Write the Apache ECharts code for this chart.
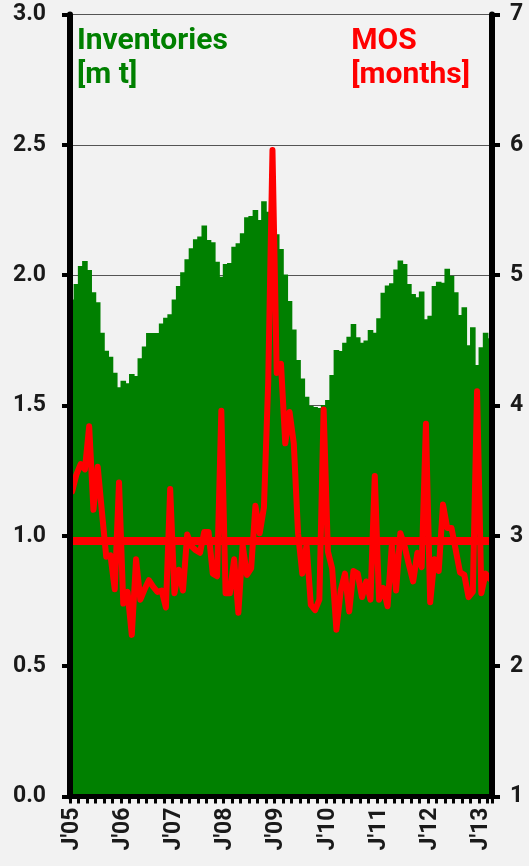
<!DOCTYPE html>
<html>
<head>
<meta charset="utf-8">
<script src="https://cdn.jsdelivr.net/npm/echarts@6/dist/echarts.min.js"></script>
<style>
  html, body { margin: 0; padding: 0; background: #f2f2f2; }
  #chart { width: 529px; height: 866px; }
</style>
</head>
<body>
<div id="chart"></div>
<script>
// Monthly inventories [m t] and months of supply, Jan 2005 – Mar 2013
const startYear = 2005;
const yearLabels = ["J'05", "J'06", "J'07", "J'08", "J'09", "J'10", "J'11", "J'12", "J'13"];

const inventories = [
  1.907, 1.966, 2.035, 2.054, 2.020, 1.934, 1.896, 1.779, 1.710, 1.687,
  1.626, 1.570, 1.595, 1.585, 1.621, 1.613, 1.681, 1.726, 1.778, 1.778,
  1.778, 1.815, 1.837, 1.850, 1.907, 1.958, 2.011, 2.061, 2.103, 2.138,
  2.148, 2.191, 2.135, 2.126, 2.051, 1.994, 2.043, 2.047, 2.109, 2.122,
  2.161, 2.222, 2.227, 2.250, 2.212, 2.284, 2.243, 2.200, 2.157, 2.100,
  2.003, 1.901, 1.792, 1.675, 1.604, 1.534, 1.499, 1.494, 1.490, 1.502,
  1.521, 1.617, 1.713, 1.709, 1.741, 1.764, 1.813, 1.762, 1.741, 1.749,
  1.790, 1.779, 1.835, 1.933, 1.960, 1.969, 2.022, 2.056, 2.043, 1.966,
  1.928, 1.915, 1.937, 1.831, 1.844, 1.958, 1.975, 1.971, 2.025, 1.998,
  1.934, 1.847, 1.877, 1.731, 1.800, 1.655, 1.723, 1.779, 1.758
];

const mos = [
  3.34, 3.47, 3.55, 3.51, 3.84, 3.20, 3.53, 3.18, 2.84, 2.85,
  2.59, 3.41, 2.48, 2.57, 2.24, 2.82, 2.51, 2.59, 2.66, 2.61,
  2.57, 2.58, 2.45, 3.36, 2.56, 2.74, 2.58, 3.01, 2.92, 2.89,
  2.87, 3.03, 3.03, 2.71, 2.69, 3.96, 2.56, 2.56, 2.82, 2.41,
  2.93, 2.70, 2.75, 3.23, 3.02, 3.22, 4.18, 5.96, 4.25, 4.32,
  3.71, 3.95, 3.71, 3.02, 2.71, 2.93, 2.47, 2.43, 2.51, 3.97,
  2.88, 2.75, 2.28, 2.58, 2.71, 2.42, 2.73, 2.71, 2.53, 2.65,
  2.51, 3.46, 2.51, 2.60, 2.46, 2.93, 2.58, 3.02, 2.92, 2.78,
  2.65, 2.87, 2.76, 3.86, 2.49, 2.82, 2.73, 3.24, 3.06, 3.06,
  2.89, 2.72, 2.70, 2.53, 2.57, 4.11, 2.56, 2.71, 2.67
];

// long-run average months of supply
const mosAverage = 2.96;

// category keys "YYYY-MM", one per monthly value
const months = inventories.map((_, i) => {
  const y = startYear + Math.floor(i / 12);
  const m = (i % 12) + 1;
  return y + '-' + String(m).padStart(2, '0');
});

const FONT = 'Roboto';
const tickLabel = { fontFamily: FONT, fontWeight: 'bold', fontSize: 23, color: '#1a1a1a' };
const headText = { fontFamily: FONT, fontWeight: 'bold', fontSize: 30, lineHeight: 34 };

const chart = echarts.init(document.getElementById('chart'), null, { renderer: 'canvas' });

chart.setOption({
  backgroundColor: '#f2f2f2',
  animation: false,
  graphic: [
    {
      type: 'text', left: 77, top: 24, z: 20,
      style: Object.assign({ text: 'Inventories\n[m t]', fill: '#008000', align: 'left' }, headText)
    },
    {
      type: 'text', right: 59, top: 24, z: 20,
      style: Object.assign({ text: 'MOS\n[months]', fill: '#ff0000', align: 'right' }, headText)
    }
  ],
  grid: { left: 70, right: 37, top: 14.5, bottom: 69.5 },
  xAxis: {
    type: 'category',
    data: months,
    boundaryGap: true,
    z: 10,
    axisLine: { show: true, lineStyle: { color: '#000', width: 5 } },
    axisTick: { show: true, interval: 1, length: 7, lineStyle: { color: '#000', width: 3 } },
    axisLabel: Object.assign({
      rotate: 90,
      margin: 11,
      padding: [0, 0, 4, 0],
      interval: (i, v) => v.endsWith('-01'),
      formatter: v => yearLabels[Number(v.slice(0, 4)) - startYear]
    }, tickLabel),
    splitLine: { show: false }
  },
  yAxis: [
    {
      type: 'value', position: 'left', min: 0, max: 3, interval: 0.5, z: 10,
      axisLine: { show: true, lineStyle: { color: '#000', width: 6 } },
      axisTick: { show: true, length: 8, lineStyle: { color: '#000', width: 4 } },
      axisLabel: Object.assign({ margin: 24, formatter: v => v.toFixed(1) }, tickLabel),
      splitLine: { show: false }
    },
    {
      type: 'value', position: 'right', min: 1, max: 7, interval: 1, z: 10,
      axisLine: { show: true, lineStyle: { color: '#000', width: 6 } },
      axisTick: { show: true, length: 8, lineStyle: { color: '#000', width: 4 } },
      axisLabel: Object.assign({ margin: 18 }, tickLabel),
      splitLine: { show: false }
    },
    {
      // gridlines only, kept beneath the bars
      type: 'value', position: 'left', min: 0, max: 3, interval: 0.5, z: 0,
      axisLine: { show: false }, axisTick: { show: false }, axisLabel: { show: false },
      splitLine: { show: true, lineStyle: { color: '#555555', width: 1 } }
    }
  ],
  series: [
    {
      name: 'Inventories',
      type: 'bar',
      yAxisIndex: 0,
      data: inventories,
      barWidth: 5.6,
      itemStyle: { color: '#008000' },
      z: 2
    },
    {
      name: 'MOS',
      type: 'line',
      yAxisIndex: 1,
      data: mos,
      symbol: 'none',
      lineStyle: { color: '#ff0000', width: 6, join: 'round', cap: 'round' },
      z: 3
    },
    {
      name: 'MOS average',
      type: 'line',
      yAxisIndex: 1,
      data: months.map(() => mosAverage),
      symbol: 'none',
      lineStyle: { color: '#ff0000', width: 8, cap: 'round' },
      z: 4
    }
  ]
});
</script>
</body>
</html>
